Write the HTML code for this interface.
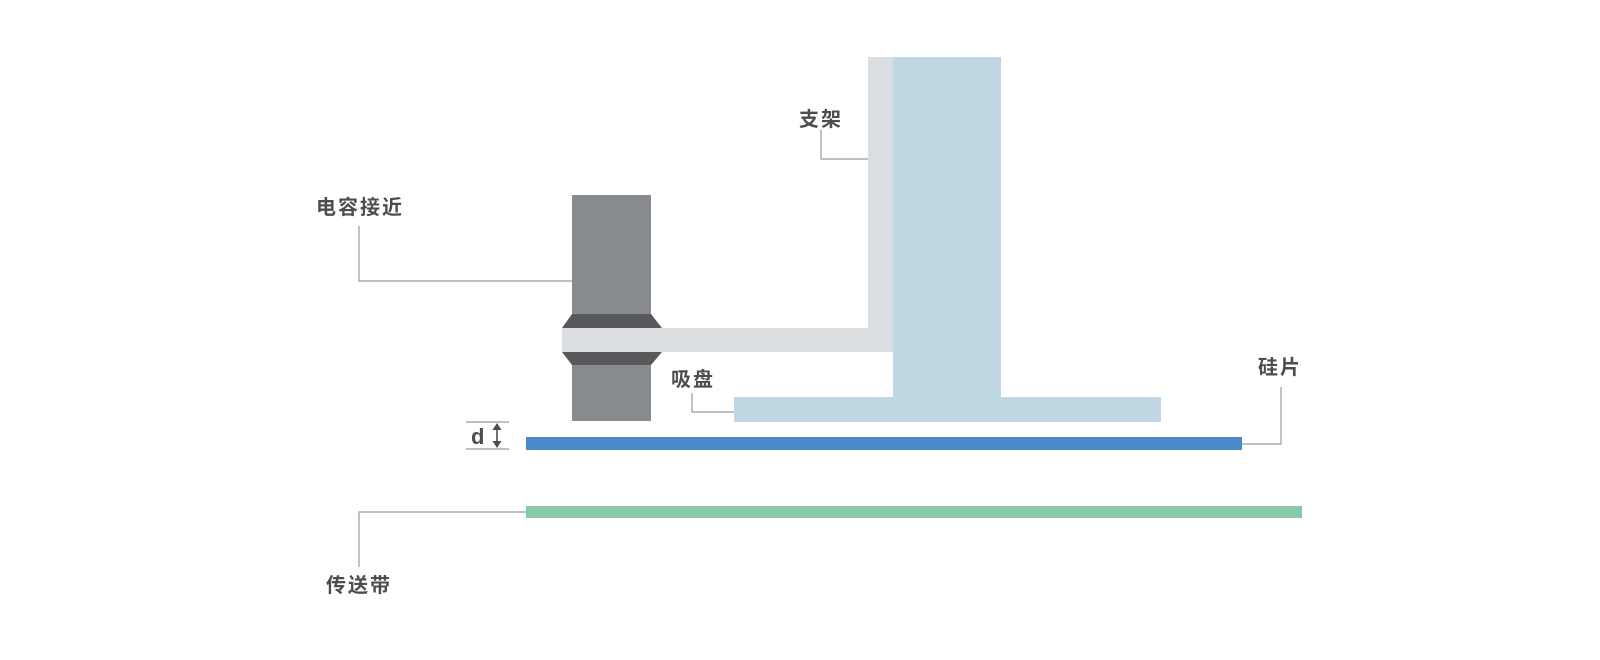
<!DOCTYPE html>
<html>
<head>
<meta charset="utf-8">
<style>
html,body{margin:0;padding:0;background:#fff;}
svg{display:block;}
text{font-family:"Liberation Sans","Noto Sans CJK SC",sans-serif;font-weight:bold;fill:#4d4d4d;font-size:20px;letter-spacing:2px;}
</style>
</head>
<body>
<svg width="1600" height="660" viewBox="0 0 1600 660" xmlns="http://www.w3.org/2000/svg">
  <!-- stand (light gray) -->
  <rect x="868" y="57" width="25" height="295" fill="#dadee1"/>
  <rect x="562" y="328" width="331" height="24" fill="#dadee1"/>
  <!-- blue column + suction plate -->
  <rect x="893" y="57" width="108" height="342" fill="#bfd6e3"/>
  <rect x="734" y="397" width="427" height="25" fill="#bfd6e3"/>
  <!-- sensor -->
  <rect x="572" y="195" width="79" height="119" fill="#878b8e"/>
  <rect x="572" y="365" width="79" height="56" fill="#878b8e"/>
  <polygon points="572,314 651,314 662,328 562,328" fill="#58575a"/>
  <polygon points="562,352 662,352 651,365 572,365" fill="#58575a"/>
  <!-- wafer -->
  <rect x="526" y="437" width="716" height="13" fill="#4a8ac9"/>
  <!-- conveyor -->
  <rect x="526" y="506" width="776" height="12" fill="#88c9a8"/>

  <!-- leader lines -->
  <g stroke="#9a9a9a" stroke-width="1.2" fill="none">
    <polyline points="359,226 359,281 572,281"/>
    <polyline points="821,130 821,159 868,159"/>
    <polyline points="692,393 692,412 734,412"/>
    <polyline points="1242,444 1281,444 1281,387"/>
    <polyline points="526,512 359,512 359,567"/>
    <line x1="466" y1="422" x2="509" y2="422"/>
    <line x1="466" y1="449" x2="509" y2="449"/>
  </g>
  <!-- d arrow -->
  <line x1="497" y1="428" x2="497" y2="443" stroke="#4d4d4d" stroke-width="1.6"/>
  <polygon points="497,423 492.5,430 501.5,430" fill="#4d4d4d"/>
  <polygon points="497,448 492.5,441 501.5,441" fill="#4d4d4d"/>

  <!-- labels -->
  <text x="316" y="214">电容接近</text>
  <text x="799" y="126">支架</text>
  <text x="671" y="386">吸盘</text>
  <text x="1258" y="374">硅片</text>
  <text x="326" y="592">传送带</text>
  <text x="471" y="444" style="font-size:22px;letter-spacing:0">d</text>
</svg>
</body>
</html>
